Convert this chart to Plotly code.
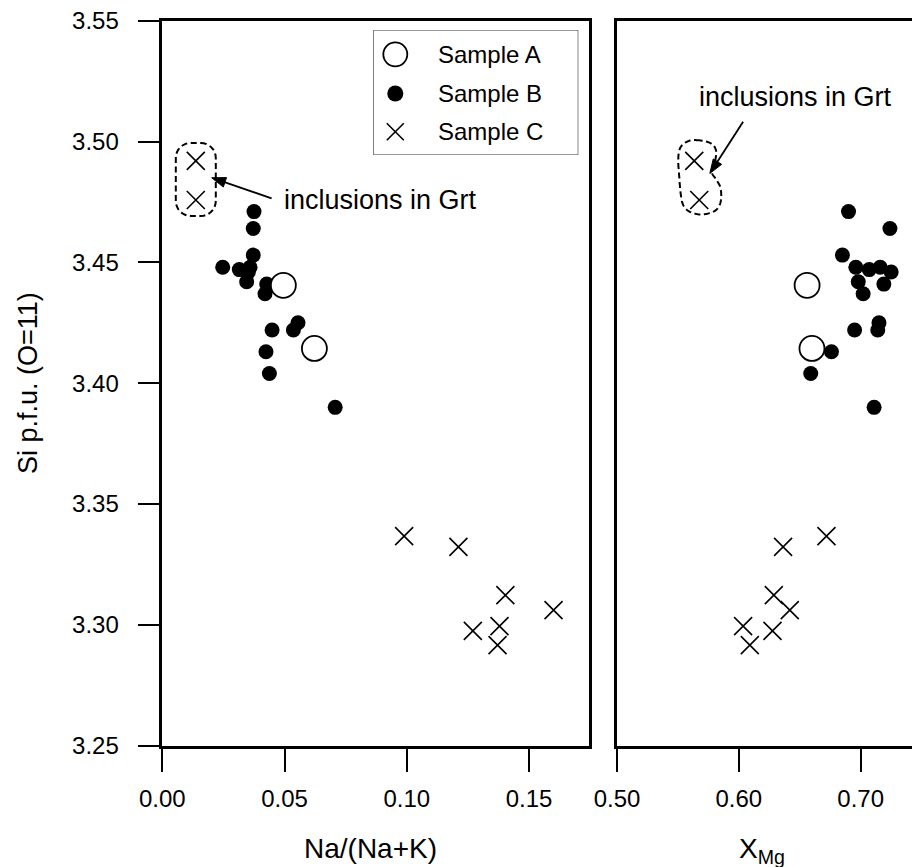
import math
import plotly.graph_objects as go

W, H = 912, 867
FONT = "Liberation Sans, Arial, Helvetica, sans-serif"

# ---------------- data ----------------
series_names = ["Sample A", "Sample B", "Sample C"]

a_nak = [0.0495, 0.0622]
a_xmg = [0.656, 0.660]
a_si = [3.4405, 3.4144]

b_nak = [0.0375, 0.0372, 0.0372, 0.0247, 0.0315, 0.0359, 0.0352, 0.0345,
         0.0427, 0.0420, 0.0555, 0.0536, 0.0449, 0.0424, 0.0438, 0.0707]
b_xmg = [0.690, 0.724, 0.685, 0.696, 0.707, 0.716, 0.725, 0.698,
         0.719, 0.702, 0.715, 0.714, 0.695, 0.676, 0.659, 0.711]
b_si = [3.471, 3.464, 3.453, 3.448, 3.447, 3.448, 3.446, 3.442,
        3.441, 3.437, 3.425, 3.422, 3.422, 3.413, 3.404, 3.390]

c_nak = [0.0137, 0.0137, 0.0989, 0.1211, 0.1403, 0.1600, 0.1379, 0.1270, 0.1371]
c_xmg = [0.5634, 0.5675, 0.6719, 0.6363, 0.6287, 0.6418, 0.6035, 0.6276, 0.6090]
c_si = [3.4920, 3.4758, 3.3367, 3.3323, 3.3123, 3.3061, 3.2995, 3.2975, 3.2916]
inclusion_idx = [0, 1]  # Sample C analyses that are inclusions in garnet

x_ticks_left = [0.00, 0.05, 0.10, 0.15]
x_ticks_right = [0.50, 0.60, 0.70]
y_ticks = [3.25, 3.30, 3.35, 3.40, 3.45, 3.50, 3.55]

x_title_left = "Na/(Na+K)"
x_title_right = "X<sub>Mg</sub>"
y_title = "Si p.f.u. (O=11)"
note_text = "inclusions in Grt"

# ---------------- geometry (pixels) ----------------
X1 = (162.3, 589.0)
X2 = (617.0, 912.0)
YP = (20.7, 745.7)
xr1 = [0.0, 0.1745]
xr2 = [0.5, 0.7421]
yr = [3.25, 3.55]


def pdom(a, b, total):
    return [a / total, b / total]


xd1 = pdom(*X1, W)
xd2 = pdom(*X2, W)
yd = [1 - YP[1] / H, 1 - YP[0] / H]

sx1 = (X1[1] - X1[0]) / (xr1[1] - xr1[0])
sx2 = (X2[1] - X2[0]) / (xr2[1] - xr2[0])
sy = (YP[1] - YP[0]) / (yr[1] - yr[0])

fig = go.Figure()

mk_b = dict(symbol="circle", size=15, color="black", line=dict(width=0))
mk_c = dict(symbol="x-thin-open", size=18, color="black", line=dict(width=1.6, color="black"))
mk_a = dict(symbol="circle", size=25, color="white", line=dict(width=1.8, color="black"))

for xs_b, xs_c, xs_a, xa, ya in [(b_nak, c_nak, a_nak, "x", "y"),
                                 (b_xmg, c_xmg, a_xmg, "x2", "y2")]:
    fig.add_trace(go.Scatter(x=xs_b, y=b_si, mode="markers", marker=mk_b,
                             name=series_names[1], showlegend=False, xaxis=xa, yaxis=ya))
    fig.add_trace(go.Scatter(x=xs_c, y=c_si, mode="markers", marker=mk_c,
                             name=series_names[2], showlegend=False, xaxis=xa, yaxis=ya))
    fig.add_trace(go.Scatter(x=xs_a, y=a_si, mode="markers", marker=mk_a,
                             name=series_names[0], showlegend=False, xaxis=xa, yaxis=ya))

# ---------------- manual legend (own small axes) ----------------
LEG = (373.3, 30.0, 578.3, 155.0)
leg_rows = [24.3, 63.5, 101.7]
leg_marks = [dict(symbol="circle", size=24, color="white", line=dict(width=1.8, color="black")),
             dict(symbol="circle", size=16, color="black", line=dict(width=0)),
             dict(symbol="x-thin-open", size=17, color="black", line=dict(width=1.6, color="black"))]
for name, ry, mk in zip(series_names, leg_rows, leg_marks):
    fig.add_trace(go.Scatter(x=[22], y=[ry], mode="markers", marker=mk, showlegend=False,
                             xaxis="x3", yaxis="y3", hoverinfo="skip"))
    fig.add_annotation(xref="x3", yref="y3", x=63, y=ry, text=name, showarrow=False,
                       xanchor="left", yanchor="middle", font=dict(size=24, color="black", family=FONT))
fig.add_shape(type="rect", xref="x3", yref="y3", x0=0, x1=LEG[2] - LEG[0], y0=0, y1=LEG[3] - LEG[1],
              line=dict(width=1.2, color="#333"))


# ---------------- inclusion outlines ----------------
def catmull(points, n=10):
    out = []
    m = len(points)
    for i in range(m):
        p0, p1, p2, p3 = points[i - 1], points[i], points[(i + 1) % m], points[(i + 2) % m]
        for k in range(n):
            t = k / n
            t2, t3 = t * t, t * t * t
            px = 0.5 * ((2 * p1[0]) + (-p0[0] + p2[0]) * t + (2 * p0[0] - 5 * p1[0] + 4 * p2[0] - p3[0]) * t2
                        + (-p0[0] + 3 * p1[0] - 3 * p2[0] + p3[0]) * t3)
            py = 0.5 * ((2 * p1[1]) + (-p0[1] + p2[1]) * t + (2 * p0[1] - 5 * p1[1] + 4 * p2[1] - p3[1]) * t2
                        + (-p0[1] + 3 * p1[1] - 3 * p2[1] + p3[1]) * t3)
            out.append((px, py))
    return out


def rounded_rect(w, h, r, dy=0.0, n=8):
    pts = []
    corners = [(w / 2 - r, -h / 2 + r, -90), (w / 2 - r, h / 2 - r, 0),
               (-w / 2 + r, h / 2 - r, 90), (-w / 2 + r, -h / 2 + r, 180)]
    for cx, cy, a0 in corners:
        for k in range(n + 1):
            a = math.radians(a0 + 90 * k / n)
            pts.append((cx + r * math.cos(a), cy + dy + r * math.sin(a)))
    return pts


def to_path(offsets, cx, cy, sx, close=True):
    parts = []
    for i, (ox, oy) in enumerate(offsets):
        X = cx + ox / sx
        Y = cy - oy / sy
        parts.append(("M" if i == 0 else "L") + f"{X:.6f},{Y:.6f}")
    return " ".join(parts) + (" Z" if close else "")


cy_incl = sum(c_si[i] for i in inclusion_idx) / len(inclusion_idx)
cx1_incl = sum(c_nak[i] for i in inclusion_idx) / len(inclusion_idx)
cx2_incl = sum(c_xmg[i] for i in inclusion_idx) / len(inclusion_idx)

dash_line = dict(color="black", width=2, dash="6px,3.5px")
fig.add_shape(type="path", xref="x", yref="y",
              path=to_path(rounded_rect(40, 73, 15, dy=-1), cx1_incl, cy_incl, sx1), line=dash_line)

bean = [(-0.1, -40.3), (13.2, -37.6), (19.2, -30.3), (18.2, -18.6), (14.9, -8.6), (19.9, -0.3),
        (23.9, 8.0), (23.9, 21.4), (18.2, 30.4), (4.9, 34.0), (-6.8, 31.4), (-13.5, 24.7),
        (-16.1, 13.0), (-17.5, -3.6), (-18.5, -20.3), (-16.8, -32.0), (-10.1, -38.6)]
fig.add_shape(type="path", xref="x2", yref="y2",
              path=to_path(catmull(bean), cx2_incl, cy_incl, sx2), line=dash_line)


# ---------------- arrows (shaft + filled head) ----------------
def add_arrow(xref, yref, tip, tail, sx, head_len=14.0, head_half=5.0):
    dx = (tail[0] - tip[0]) * sx
    dy = -(tail[1] - tip[1]) * sy
    d = math.hypot(dx, dy)
    ux, uy = dx / d, dy / d
    px, py = -uy, ux
    bx, by = ux * head_len, uy * head_len
    head = [(0, 0), (bx + px * head_half, by + py * head_half), (bx - px * head_half, by - py * head_half)]
    # offsets are in pixel space with y down: to_path expects y-down offsets
    fig.add_shape(type="path", xref=xref, yref=yref,
                  path=to_path(head, tip[0], tip[1], sx),
                  line=dict(color="black", width=1), fillcolor="black")
    fig.add_shape(type="path", xref=xref, yref=yref,
                  path=to_path([(bx * 0.8, by * 0.8), (dx, dy)], tip[0], tip[1], sx, close=False),
                  line=dict(color="black", width=1.8))


add_arrow("x", "y", (0.0202, 3.4850), (0.0447, 3.4765), sx1)
add_arrow("x2", "y2", (0.5762, 3.4868), (0.6035, 3.5082), sx2)

fig.add_annotation(xref="x", yref="y", x=0.0489, y=3.4758, text=note_text, showarrow=False,
                   xanchor="left", yanchor="middle", font=dict(size=27, color="black", family=FONT))
fig.add_annotation(xref="x2", yref="y2", x=0.6463, y=3.5184, text=note_text, showarrow=False,
                   xanchor="center", yanchor="middle", font=dict(size=27, color="black", family=FONT))

# ---------------- axis titles ----------------
fig.add_annotation(xref="paper", yref="paper", x=370 / W, y=1 - 848 / H, text=x_title_left, showarrow=False,
                   xanchor="center", yanchor="middle", font=dict(size=28, color="black", family=FONT))
fig.add_annotation(xref="paper", yref="paper", x=762 / W, y=1 - 850 / H, text=x_title_right, showarrow=False,
                   xanchor="center", yanchor="middle", font=dict(size=28, color="black", family=FONT))
fig.add_annotation(xref="paper", yref="paper", x=28 / W, y=1 - 383 / H, text=y_title, showarrow=False,
                   textangle=-90, xanchor="center", yanchor="middle",
                   font=dict(size=27, color="black", family=FONT))

tickfont = dict(size=24, color="black", family=FONT)
common_x = dict(showline=True, linecolor="black", linewidth=2.5, showgrid=False, zeroline=False,
                ticks="outside", ticklen=24, tickwidth=2.2, tickcolor="black", tickfont=tickfont,
                mirror=True, ticklabelstandoff=6, automargin=False)

fig.update_layout(
    width=W, height=H, margin=dict(l=0, r=0, t=0, b=0, autoexpand=False),
    paper_bgcolor="white", plot_bgcolor="white", showlegend=False,
    font=dict(family=FONT, color="black"),
    xaxis=dict(domain=xd1, range=xr1, tickvals=x_ticks_left,
               ticktext=[f"{v:.2f}" for v in x_ticks_left], anchor="y", **common_x),
    xaxis2=dict(domain=xd2, range=xr2, tickvals=x_ticks_right,
                ticktext=[f"{v:.2f}" for v in x_ticks_right], anchor="y2", **common_x),
    yaxis=dict(domain=yd, range=yr, tickvals=y_ticks, ticktext=[f"{v:.2f}" for v in y_ticks],
               showline=True, linecolor="black", linewidth=2.5, mirror=True, showgrid=False,
               zeroline=False, ticks="outside", ticklen=22, tickwidth=2.2, tickcolor="black",
               tickfont=tickfont, anchor="x", ticklabelstandoff=14, automargin=False),
    yaxis2=dict(domain=yd, range=yr, showline=True, linecolor="black", linewidth=2.5, mirror=False,
                showgrid=False, zeroline=False, ticks="", showticklabels=False, anchor="x2",
                automargin=False),
    xaxis3=dict(domain=pdom(LEG[0], LEG[2], W), range=[0, LEG[2] - LEG[0]], visible=False,
                fixedrange=True, anchor="y3", automargin=False),
    yaxis3=dict(domain=[1 - LEG[3] / H, 1 - LEG[1] / H], range=[LEG[3] - LEG[1], 0], visible=False,
                fixedrange=True, anchor="x3", automargin=False),
)

fig.write_html("out.html")
